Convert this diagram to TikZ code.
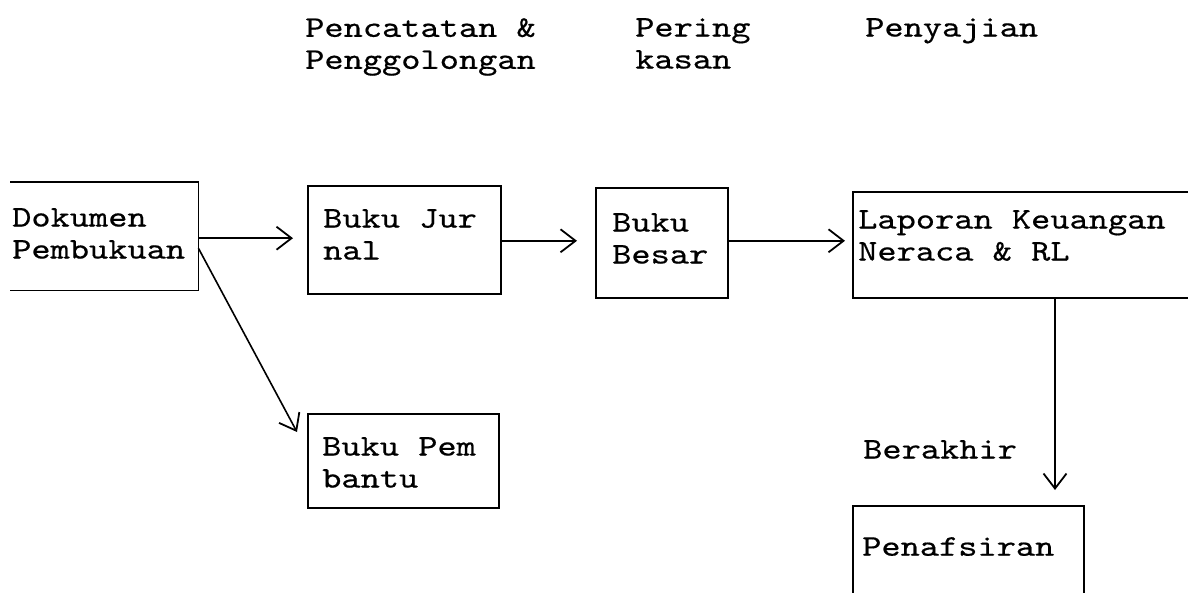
\documentclass[tikz,border=0pt]{standalone}
\usepackage{fontspec}
\setmonofont{lmmono10-regular.otf}[FakeStretch=1.22,FakeBold=0.5]
\usetikzlibrary{arrows.meta,calc}
\tikzset{
  box/.style={draw, line width=1.6pt, rectangle, inner sep=0pt, anchor=north west},
  openbox/.style={rectangle, inner sep=0pt, anchor=north west},
  txt/.style={inner sep=0pt, anchor=north west, align=left,
    font=\ttfamily\fontsize{30}{32}\selectfont},
  arr/.style={line width=1.6pt, -{Straight Barb[length=15pt,width=23pt,line width=1.8pt]}},
}
\begin{document}
\begin{tikzpicture}[x=1pt,y=-1pt]
\useasboundingbox (0,0) rectangle (1188,593);
% headers
\node[txt] (h1) at (305,18) {Pencatatan \&\\Penggolongan};
\node[txt] (h2) at (635,18) {Pering\\kasan};
\node[txt] (h3) at (865,18) {Penyajian};
% boxes
\node[openbox, minimum width=188pt, minimum height=108pt] (dok) at (10,182) {};
\draw[line width=1.6pt] (dok.north west) -- (dok.north east) -- (dok.south east) -- (dok.south west);
\node[txt] (dokt) at (12,208) {Dokumen\\Pembukuan};
\node[box, minimum width=193pt, minimum height=108pt] (jur) at (307,185) {};
\node[txt] (jurt) at (323,209) {Buku Jur\\nal};
\node[box, minimum width=132pt, minimum height=110pt] (bes) at (595,187) {};
\node[txt] (best) at (612,213) {Buku\\Besar};
\node[box, minimum width=400pt, minimum height=106pt] (lap) at (852,191) {};
\node[txt] (lapt) at (858,210) {Laporan Keuangan\\Neraca \& RL};
\node[box, minimum width=191pt, minimum height=94pt] (pem) at (307,413) {};
\node[txt] (pemt) at (322,437) {Buku Pem\\bantu};
\node[box, minimum width=231pt, minimum height=120pt] (pen) at (852,505) {};
\node[txt] (pent) at (862,537) {Penafsiran};
\node[txt] (ber) at (863,440) {Berakhir};
% connectors
\coordinate (vx) at (1055,0);
\draw[arr, shorten >=14pt] ([yshift=-2pt]dok.east) -- ([yshift=-2pt]dok.east -| jur.west);
\draw[arr, shorten >=18pt] ([yshift=-1pt]jur.east) -- ([yshift=-1pt]jur.east -| bes.west);
\draw[arr, shorten >=7pt] ([yshift=2pt]bes.east) -- ([yshift=2pt]bes.east -| lap.west);
\draw[arr] (lap.south -| vx) -- ([yshift=15pt]pen.north -| vx);
\draw[arr] ([yshift=-12pt]dok.east) -- ($(pem.north west)+(-10,19)$);
\end{tikzpicture}
\end{document}
